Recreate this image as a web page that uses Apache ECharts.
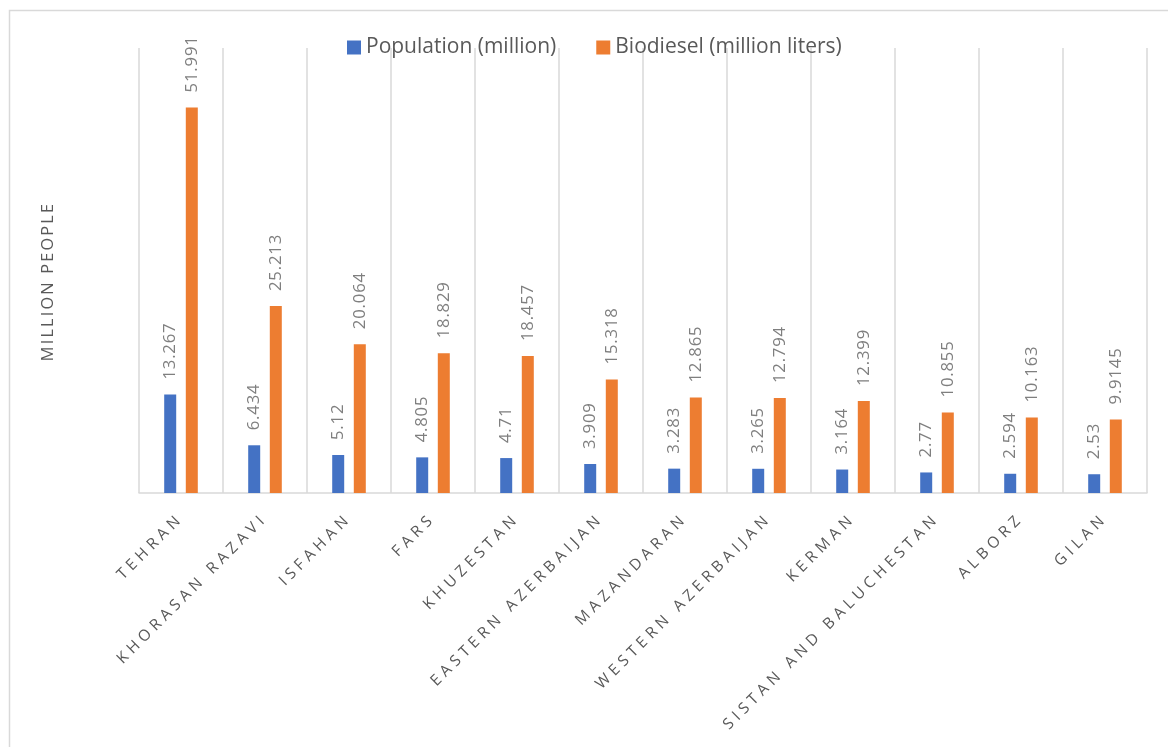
<!DOCTYPE html>
<html>
<head>
<meta charset="utf-8">
<script src="https://cdn.jsdelivr.net/npm/echarts@6/dist/echarts.min.js"></script>
<style>
html,body{margin:0;padding:0;background:#fff;}
#chart{width:1168px;height:747px;}
</style>
</head>
<body>
<div id="chart"></div>
<script>
// Data
const provinces = ['TEHRAN','KHORASAN RAZAVI','ISFAHAN','FARS','KHUZESTAN','EASTERN AZERBAIJAN','MAZANDARAN','WESTERN AZERBAIJAN','KERMAN','SISTAN AND BALUCHESTAN','ALBORZ','GILAN'];
const population = [13.267, 6.434, 5.12, 4.805, 4.71, 3.909, 3.283, 3.265, 3.164, 2.77, 2.594, 2.53];
const biodiesel = [51.991, 25.213, 20.064, 18.829, 18.457, 15.318, 12.865, 12.794, 12.399, 10.855, 10.163, 9.9145];
const seriesNames = ['Population (million)', 'Biodiesel (million liters)'];
const yAxisTitle = 'MILLION PEOPLE';

// letter spacing per text role (keyed by a distinctive font size)
(function(){
  const spacing = [[/15\.5px/, '4.5px'], [/16\.25px/, '2.2px'], [/16\.75px/, '0.8px']];
  const proto = CanvasRenderingContext2D.prototype;
  const orig = proto.fillText;
  proto.fillText = function(t, x, y, w){
    if ('letterSpacing' in this) {
      let ls = '0px';
      for (const [re, v] of spacing) { if (re.test(this.font)) { ls = v; break; } }
      this.letterSpacing = ls;
    }
    return w === undefined ? orig.call(this, t, x, y) : orig.call(this, t, x, y, w);
  };
})();

const FONT = "'Open Sans', sans-serif";
const chart = echarts.init(document.getElementById('chart'), null, {renderer: 'canvas'});
const labelCommon = {
  show: true, position: 'top', rotate: 90, align: 'left', verticalAlign: 'middle',
  distance: 15, color: '#7f7f7f', fontSize: 16.75, fontFamily: FONT
};
chart.setOption({
  animation: false,
  backgroundColor: '#ffffff',
  graphic: [{
    type: 'rect', silent: true,
    shape: {x: 9.5, y: 10.5, width: 1300, height: 900},
    style: {fill: 'none', stroke: '#d9d9d9', lineWidth: 1.5}
  }],
  legend: {
    left: 347, top: 37, padding: 0,
    itemWidth: 14, itemHeight: 14, itemGap: 40,
    icon: 'rect',
    textStyle: {color: '#595959', fontSize: 21, fontFamily: FONT},
    data: seriesNames
  },
  grid: {left: 139, right: 21, top: 48, bottom: 254, containLabel: false},
  xAxis: {
    type: 'category',
    data: provinces,
    boundaryGap: true,
    axisLine: {show: true, lineStyle: {color: '#d9d9d9', width: 1.5}},
    axisTick: {show: false},
    splitLine: {show: true, lineStyle: {color: '#d9d9d9', width: 1.5}},
    axisLabel: {
      interval: 0, rotate: 45, margin: 23,
      color: '#595959', fontSize: 15.5, fontFamily: FONT
    }
  },
  yAxis: {
    type: 'value', min: 0, max: 60,
    name: yAxisTitle, nameLocation: 'middle', nameGap: 83,
    nameTextStyle: {color: '#595959', fontSize: 16.25, fontFamily: FONT, padding: [0, 22, 0, 0]},
    axisLine: {show: false}, axisTick: {show: false},
    axisLabel: {show: false}, splitLine: {show: false}
  },
  series: [
    {name: seriesNames[0], type: 'bar', data: population, barWidth: 12, barGap: '80%',
     itemStyle: {color: '#4472C4'}, label: labelCommon},
    {name: seriesNames[1], type: 'bar', data: biodiesel, barWidth: 12, barGap: '80%',
     itemStyle: {color: '#ED7D31'}, label: labelCommon}
  ]
});
</script>
</body>
</html>
